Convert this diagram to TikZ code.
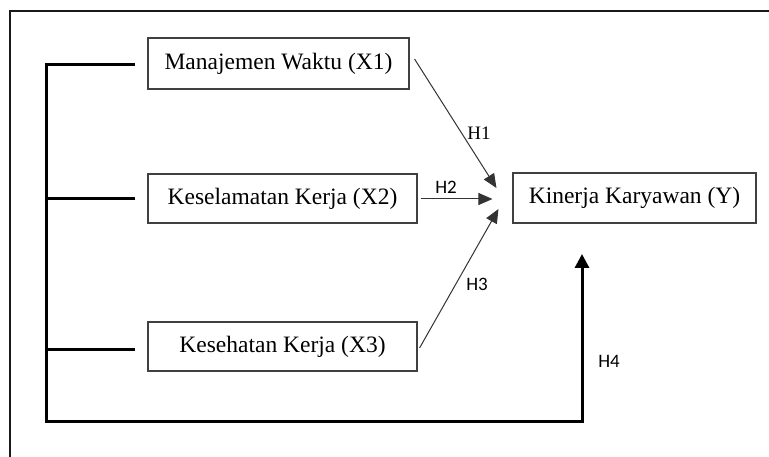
\documentclass[tikz,border=0pt]{standalone}
\usepackage{fontspec}
\setmainfont{Liberation Serif}
\newfontfamily\calibri{Carlito}
\usetikzlibrary{arrows.meta}
\begin{document}
\begin{tikzpicture}[x=1pt,y=-1pt,
  box/.style={draw=black!75,line width=1.1pt,inner sep=0pt,font=\fontsize{23.5}{27}\selectfont},
  thinarrow/.style={draw=black!80,line width=1pt,-{Triangle[length=14pt,width=12pt]}},
  bracket/.style={line width=3pt,line cap=butt},
  frameline/.style={line width=2pt,draw=black!90},
  hlab/.style={font=\calibri\fontsize{19}{22}\selectfont,inner sep=0pt},
  hlabs/.style={font=\fontsize{19}{22}\selectfont,inner sep=0pt}]
\useasboundingbox (0,0) rectangle (769,457);
% frame (top and left only)
\coordinate (fTR) at (769,11);
\coordinate (fTL) at (10,11);
\coordinate (fBL) at (10,457);
\draw[frameline] (fTR) -- (fTL) -- (fBL);
% boxes
\node[box,minimum width=261pt,minimum height=51pt] (x1) at (278.5,63.5) {Manajemen Waktu (X1)};
\node[box,minimum width=269pt,minimum height=49pt] (x2) at (282.5,198.5) {Keselamatan Kerja (X2)};
\node[box,minimum width=269pt,minimum height=49pt] (x3) at (282.5,346.5) {Kesehatan Kerja (X3)};
\node[box,minimum width=243pt,minimum height=50pt] (y) at (634.5,198) {Kinerja Karyawan (Y)};
% bracket
\coordinate (s1) at ([xshift=-12pt,yshift=-1.5pt]x1.west);
\coordinate (s2) at ([xshift=-12pt,yshift=-0.5pt]x2.west);
\coordinate (s3) at ([xshift=-12pt,yshift=-2.5pt]x3.west);
\coordinate (Lb) at (46,421);
\coordinate (h4end) at (582,254);
\draw[bracket,-{Triangle[length=14pt,width=14pt]}] (s1) -| (Lb) -| (h4end);
\draw[bracket] (s2) -- (s2 -| Lb);
\draw[bracket] (s3) -- (s3 -| Lb);
% hypothesis arrows
\draw[thinarrow] ([xshift=5pt,yshift=4.5pt]x1.east) -- ([xshift=-16pt,yshift=10pt]y.west);
\draw[thinarrow] ([xshift=3pt,yshift=-0.5pt]x2.east) -- ([xshift=-20pt,yshift=-1pt]y.west);
\draw[thinarrow] ([xshift=2pt,yshift=-1.5pt]x3.east) -- ([xshift=-14pt,yshift=-11pt]y.west);
% labels
\node[hlabs] (h1) at (479,133) {H1};
\node[hlab] (h2) at (446,187) {H2};
\node[hlab] (h3) at (477,284) {H3};
\node[hlab] (h4) at (609,361) {H4};
\end{tikzpicture}
\end{document}
